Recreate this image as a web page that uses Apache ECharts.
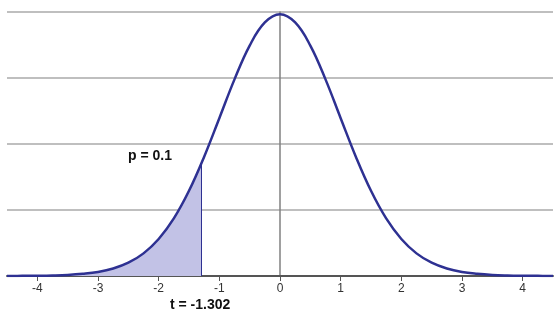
<!DOCTYPE html>
<html><head><meta charset="utf-8">
<script src="https://cdn.jsdelivr.net/npm/echarts@6/dist/echarts.min.js"></script>
<style>html,body{margin:0;padding:0;background:#fff}#c{width:560px;height:326px}</style>
</head><body><div id="c"></div>
<script>
// t-distribution density (x step 0.25)
const xs = [-4.5,-4.25,-4,-3.75,-3.5,-3.25,-3,-2.75,-2.5,-2.25,-2,-1.75,-1.5,-1.25,-1,-0.75,-0.5,-0.25,0,
            0.25,0.5,0.75,1,1.25,1.5,1.75,2,2.25,2.5,2.75,3,3.25,3.5,3.75,4,4.25,4.5];
const ys = [0.0001,0.0002,0.0004,0.0008,0.0016,0.0033,0.0061,0.0113,0.0201,0.0343,0.0561,0.0873,0.1291,0.1808,0.2391,0.2979,0.3491,0.3841,0.3966,
            0.3841,0.3491,0.2979,0.2391,0.1808,0.1291,0.0873,0.0561,0.0343,0.0201,0.0113,0.0061,0.0033,0.0016,0.0008,0.0004,0.0002,0.0001];
const tValue = -1.302;
const tDensity = 0.1694;
const pValue = 0.1;
const xTicks = [-4,-3,-2,-1,0,1,2,3,4];

const curve = xs.map((x,i)=>[x,ys[i]]);
const shade = curve.filter(d=>d[0] < tValue);
shade.push([tValue,tDensity]);

const chart = echarts.init(document.getElementById('c'));
chart.setOption({
  animation:false,
  grid:{left:7,right:7,top:12,bottom:50},
  xAxis:{type:'value',min:-4.5,max:4.5,
    axisLine:{onZero:false,lineStyle:{color:'#555',width:2}},
    axisTick:{show:true,customValues:xTicks,length:5,lineStyle:{color:'#555',width:1}},
    axisLabel:{customValues:xTicks,color:'#333',fontSize:12,fontFamily:'Liberation Sans, Arial',margin:7},
    splitLine:{show:false}},
  yAxis:{type:'value',min:0,max:0.4,interval:0.1,
    axisLine:{show:true,onZero:true,lineStyle:{color:'#808080',width:1.5}},
    axisTick:{show:false},axisLabel:{show:false},
    splitLine:{show:true,lineStyle:{color:'#aaaaaa',width:1.5}}},
  series:[
    {type:'line',data:shade,smooth:0.4,symbol:'none',
     lineStyle:{width:0},areaStyle:{color:'#c2c2e6',opacity:1},z:2,
     markLine:{silent:true,symbol:'none',label:{show:false},
       lineStyle:{color:'#2e3192',width:1,type:'solid'},
       data:[[{coord:[tValue,0]},{coord:[tValue,tDensity]}]]}},
    {type:'line',data:curve,smooth:0.4,symbol:'none',
     lineStyle:{color:'#2e3192',width:2.5},z:3}
  ],
  graphic:[
    {type:'text',left:128,top:149,style:{text:'p = '+pValue,font:'bold 14px Liberation Sans, Arial',fill:'#111'}},
    {type:'text',left:170,top:298,style:{text:'t = '+tValue,font:'bold 14px Liberation Sans, Arial',fill:'#111'}}
  ]
});
</script></body></html>
